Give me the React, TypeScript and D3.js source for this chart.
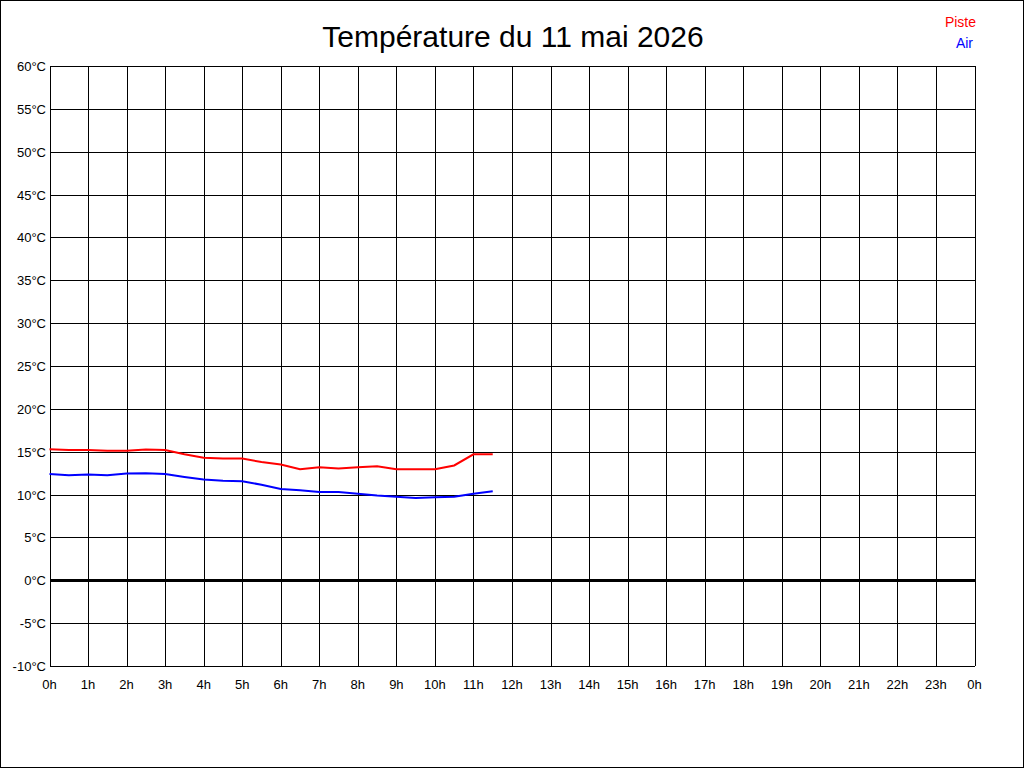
import React, { useEffect } from 'react';
import * as d3 from 'd3';

// Readings every half hour (hours since midnight)
const hours = [0, 0.5, 1, 1.5, 2, 2.5, 3, 3.5, 4, 4.5, 5, 5.5, 6, 6.5, 7, 7.5, 8, 8.5, 9, 9.5, 10, 10.5, 11, 11.5];
const piste = [15.3, 15.2, 15.2, 15.1, 15.1, 15.25, 15.2, 14.7, 14.3, 14.2, 14.2, 13.8, 13.5, 12.95, 13.2, 13.05, 13.2, 13.3, 12.95, 12.95, 12.95, 13.4, 14.7, 14.7];
const air = [12.4, 12.25, 12.35, 12.25, 12.45, 12.5, 12.4, 12.05, 11.75, 11.6, 11.55, 11.15, 10.65, 10.5, 10.3, 10.3, 10.1, 9.9, 9.75, 9.6, 9.7, 9.75, 10.1, 10.4];

const yTicks = [-10, -5, 0, 5, 10, 15, 20, 25, 30, 35, 40, 45, 50, 55, 60];
const xTicks = d3.range(0, 25);
const title = 'Température du 11 mai 2026';

const W = 1024;
const H = 768;
const plot = { left: 49.5, right: 974.5, top: 66, bottom: 666 };
const font = '"Liberation Sans", Arial, sans-serif';

export default function App() {
  useEffect(() => {
    document.body.style.margin = '0';
  }, []);

  const x = d3.scaleLinear().domain([0, 24]).range([plot.left, plot.right]);
  const y = d3.scaleLinear().domain([-10, 60]).range([plot.bottom, plot.top]);

  const line = d3.line<[number, number]>()
    .x(d => x(d[0]))
    .y(d => y(d[1]));

  const pistePts = hours.map((h, i) => [h, piste[i]] as [number, number]);
  const airPts = hours.map((h, i) => [h, air[i]] as [number, number]);

  return (
    <svg width={W} height={H} style={{ display: 'block', background: '#fff' }}>
      <rect x={0.5} y={0.5} width={W - 1} height={H - 1} fill="#fff" stroke="#000" strokeWidth={1} />

      <text x={513} y={47} textAnchor="middle" fontFamily={font} fontSize={30} fill="#000">{title}</text>

      <text x={976} y={27} textAnchor="end" fontFamily={font} fontSize={14} fill="#ff0000">Piste</text>
      <text x={973} y={48} textAnchor="end" fontFamily={font} fontSize={14} fill="#0000ff">Air</text>

      {/* horizontal grid + y labels */}
      {yTicks.map(t => (
        <g key={'y' + t}>
          <line x1={plot.left} x2={plot.right} y1={Math.round(y(t)) + 0.5} y2={Math.round(y(t)) + 0.5}
            stroke="#000" strokeWidth={t === 0 ? 3 : 1} shapeRendering="crispEdges" />
          <text x={46} y={Math.round(y(t)) + 5} textAnchor="end" fontFamily={font} fontSize={13} fill="#000">{t}°C</text>
        </g>
      ))}

      {/* vertical grid + x labels */}
      {xTicks.map(t => (
        <g key={'x' + t}>
          <line x1={Math.round(x(t)) + 0.5} x2={Math.round(x(t)) + 0.5} y1={plot.top} y2={plot.bottom}
            stroke="#000" strokeWidth={1} shapeRendering="crispEdges" />
          <text x={x(t)} y={689} textAnchor="middle" fontFamily={font} fontSize={13} fill="#000">{(t % 24) + 'h'}</text>
        </g>
      ))}

      <path d={line(pistePts) || ''} fill="none" stroke="#ff0000" strokeWidth={2} />
      <path d={line(airPts) || ''} fill="none" stroke="#0000ff" strokeWidth={2} />
    </svg>
  );
}
